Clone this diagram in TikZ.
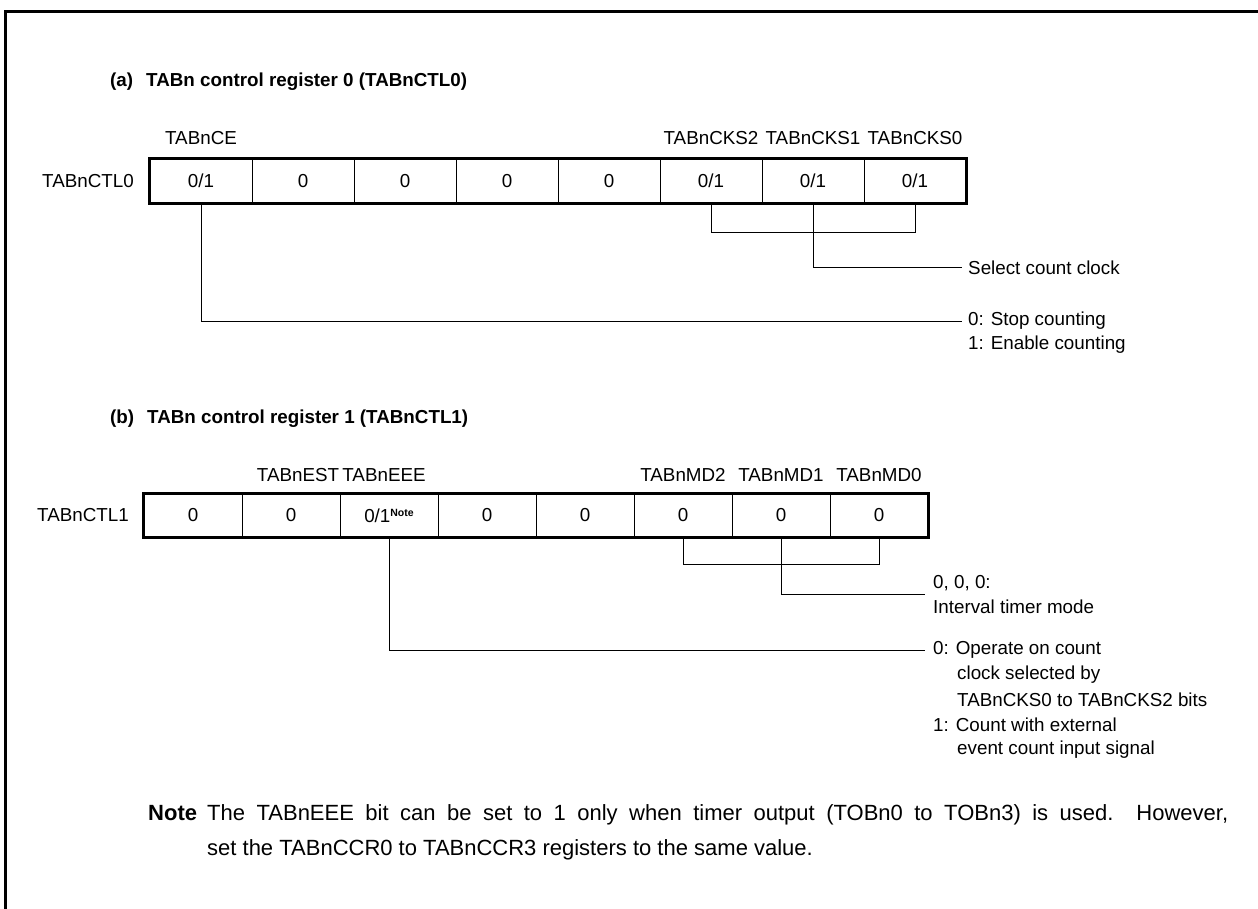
\documentclass[tikz,border=0pt]{standalone}
\usepackage{fontspec}
\setmainfont{Liberation Sans}
\begin{document}
\begin{tikzpicture}[x=1pt,y=-1pt,
  every node/.style={inner sep=0pt, font=\fontsize{18.8}{24}\selectfont},
  ttl/.style={anchor=west, font=\bfseries\fontsize{18.8}{24}\selectfont},
  notefont/.style={font=\fontsize{22}{28}\selectfont},
  cellA/.style={draw, line width=0.9pt, minimum width=102pt, minimum height=44pt},
  cellB/.style={draw, line width=0.9pt, minimum width=98pt, minimum height=43pt},
  outer/.style={line width=2.6pt},
  frame/.style={line width=3pt},
  conn/.style={line width=1pt},
  txt/.style={anchor=west},
  lbl/.style={anchor=center}
]
\useasboundingbox (0,0) rectangle (1258,909);
% frame
\draw[frame] (5,909) -- (5,11.5) -- (1258,11.5);

% ---------- (a) ----------
\node[ttl] (ta) at (110,82) {(a)\hspace{13pt}TABn control register 0 (TABnCTL0)};
\node[anchor=east] (rn0) at (134,181) {TABnCTL0};
\foreach \i/\v in {0/0\slash 1,1/0,2/0,3/0,4/0,5/0\slash 1,6/0\slash 1,7/0\slash 1}{
  \node[cellA] (a\i) at ({201+102*\i},181) {\v};
}
\draw[outer] (a0.north west) rectangle (a7.south east);
\node[lbl] (lce)  at (a0.center |- {0,138}) {TABnCE};
\node[lbl] (lck2) at ({a5.center} |- {0,138}) {TABnCKS2};
\node[lbl] (lck1) at ({a6.center} |- {0,138}) {TABnCKS1};
\node[lbl] (lck0) at ({a7.center} |- {0,138}) {TABnCKS0};

\node[txt] (sel) at (968,268) {Select count clock};
\node[txt] (st0) at (968,321) {0: Stop counting};
\node[txt] (st1) at (968,345) {1: Enable counting};
\coordinate (esel) at (962,268);
\coordinate (est) at (962,321);
\draw[conn] (a5.south) -- ++(0,29) -| (a7.south);
\draw[conn] (a6.south) |- (esel);
\draw[conn] (a0.south) |- (est);

% ---------- (b) ----------
\node[ttl] (tb) at (110,419) {(b)\hspace{13pt}TABn control register 1 (TABnCTL1)};
\node[anchor=east] (rn1) at (129,515.5) {TABnCTL1};
\foreach \i/\v in {0/0,1/0,3/0,4/0,5/0,6/0,7/0}{
  \node[cellB] (b\i) at ({193+98*\i},515.5) {\v};
}
\node[cellB] (b2) at ({193+98*2},515.5) {0\slash 1\raisebox{6pt}{\bfseries\fontsize{10.5}{11}\selectfont Note}};
\draw[outer] (b0.north west) rectangle (b7.south east);
\node[lbl] (lest) at (298,475) {TABnEST};
\node[lbl] (leee) at (384,475) {TABnEEE};
\node[lbl] (lmd2) at ({b5.center} |- {0,475}) {TABnMD2};
\node[lbl] (lmd1) at ({b6.center} |- {0,475}) {TABnMD1};
\node[lbl] (lmd0) at ({b7.center} |- {0,475}) {TABnMD0};

\node[txt] (m0) at (933,583) {0, 0, 0:};
\node[txt] (m1) at (933,607) {Interval timer mode};
\node[txt] (o0) at (933,650) {0: Operate on count};
\node[txt] (o1) at (957,675) {clock selected by};
\node[txt] (o2) at (957,700) {TABnCKS0 to TABnCKS2 bits};
\node[txt] (o3) at (933,725) {1: Count with external};
\node[txt] (o4) at (957,750) {event count input signal};
\coordinate (emd) at (925,594);
\coordinate (eop) at (925,650);
\draw[conn] (b5.south) -- ++(0,27.5) -| (b7.south);
\draw[conn] (b6.south) |- (emd);
\draw[conn] (b2.south) |- (eop);

% ---------- Note ----------
\node[anchor=base west, font=\bfseries\fontsize{22}{28}\selectfont] (nh) at (148,820) {Note};
\node[anchor=base west, notefont] (n1) at (207,820) {\makebox[1021pt][s]{The TABnEEE bit can be set to 1 only when timer output (TOBn0 to TOBn3) is used.\ \ However,}};
\node[anchor=base west, notefont] (n2) at (207,855) {set the TABnCCR0 to TABnCCR3 registers to the same value.};
\end{tikzpicture}
\end{document}
